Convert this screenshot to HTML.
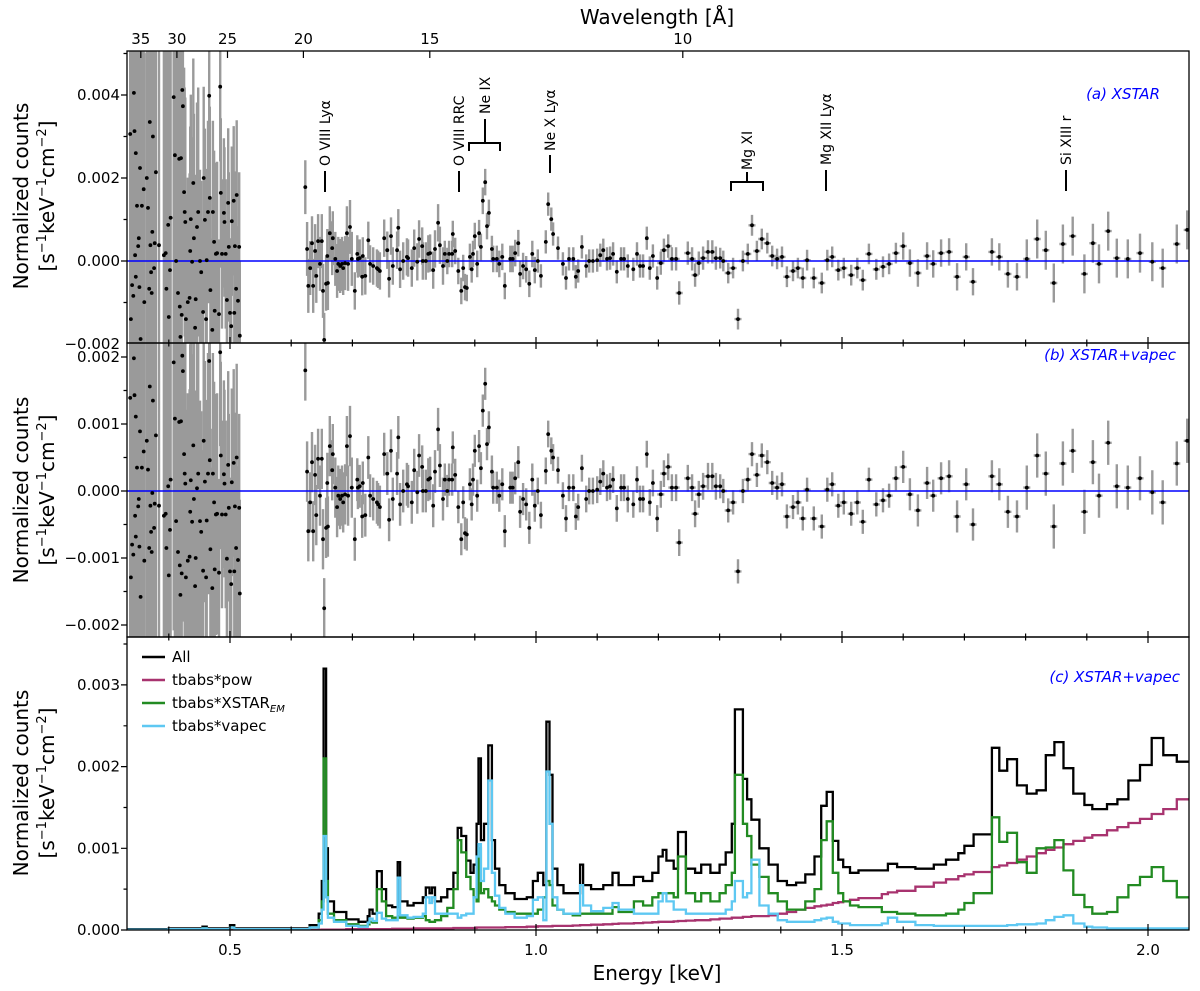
<!DOCTYPE html>
<html><head><meta charset="utf-8"><title>Spectrum residuals and model</title>
<style>
html,body{margin:0;padding:0;background:#fff;}
svg{display:block;font-family:"DejaVu Sans","Liberation Sans",sans-serif;}
</style></head>
<body>
<svg id="chart" width="1200" height="991" viewBox="0 0 1200 991" xmlns="http://www.w3.org/2000/svg">
<defs>
<clipPath id="clipA"><rect x="127" y="51" width="1062" height="292"/></clipPath>
<clipPath id="clipB"><rect x="127" y="343" width="1062" height="294"/></clipPath>
<clipPath id="clipC"><rect x="127" y="637" width="1062" height="293"/></clipPath>
</defs>
<g id="layerA" clip-path="url(#clipA)"></g>
<g id="layerB" clip-path="url(#clipB)"></g>
<g id="layerC" clip-path="url(#clipC)"></g>
<g id="axes"></g>
<g font-size="14" fill="#000" stroke="#000" stroke-width="2">
  <text stroke="none" transform="translate(330,166) rotate(-90)">O VIII Lyα</text>
  <line x1="325" y1="171" x2="325" y2="192"/>
  <text stroke="none" transform="translate(464,166) rotate(-90)">O VIII RRC</text>
  <line x1="459" y1="171" x2="459" y2="192"/>
  <text stroke="none" transform="translate(490,114) rotate(-90)">Ne IX</text>
  <path fill="none" d="M485 119V143M469 151V143H500V151"/>
  <text stroke="none" transform="translate(555,151) rotate(-90)">Ne X Lyα</text>
  <line x1="550" y1="155" x2="550" y2="173"/>
  <text stroke="none" transform="translate(752,170) rotate(-90)">Mg XI</text>
  <path fill="none" d="M747 172V182M731 191V182H763V191"/>
  <text stroke="none" transform="translate(831,165) rotate(-90)">Mg XII Lyα</text>
  <line x1="826" y1="170" x2="826" y2="191"/>
  <text stroke="none" transform="translate(1071,165) rotate(-90)">Si XIII r</text>
  <line x1="1066" y1="170" x2="1066" y2="191"/>
</g>
<g font-style="italic" font-size="15" fill="#0000ff" text-anchor="end">
  <text x="1160" y="99">(a) XSTAR</text>
  <text x="1176" y="360">(b) XSTAR+vapec</text>
  <text x="1180" y="682">(c) XSTAR+vapec</text>
</g>
<g font-size="15">
  <line x1="142" y1="657" x2="165" y2="657" stroke="#000" stroke-width="2.5"/>
  <text x="172" y="662">All</text>
  <line x1="142" y1="680" x2="165" y2="680" stroke="#a8336f" stroke-width="2.5"/>
  <text x="172" y="685">tbabs*pow</text>
  <line x1="142" y1="703" x2="165" y2="703" stroke="#228b22" stroke-width="2.5"/>
  <text x="172" y="708">tbabs*XSTAR<tspan font-size="10" font-style="italic" dy="4">EM</tspan></text>
  <line x1="142" y1="726" x2="165" y2="726" stroke="#5ec8f2" stroke-width="2.5"/>
  <text x="172" y="731">tbabs*vapec</text>
</g>
<text x="657" y="24" font-size="20" text-anchor="middle">Wavelength [Å]</text>
<text x="657" y="980" font-size="20" text-anchor="middle">Energy [keV]</text>
<g font-size="20" text-anchor="middle">
  <text transform="translate(28,196) rotate(-90)">Normalized counts</text>
  <text transform="translate(54,196) rotate(-90)">[s<tspan font-size="13" dy="-8">−1</tspan><tspan dy="8">keV</tspan><tspan font-size="13" dy="-8">−1</tspan><tspan dy="8">cm</tspan><tspan font-size="13" dy="-8">−2</tspan><tspan dy="8">]</tspan></text>
</g>
<g font-size="20" text-anchor="middle">
  <text transform="translate(28,490) rotate(-90)">Normalized counts</text>
  <text transform="translate(54,490) rotate(-90)">[s<tspan font-size="13" dy="-8">−1</tspan><tspan dy="8">keV</tspan><tspan font-size="13" dy="-8">−1</tspan><tspan dy="8">cm</tspan><tspan font-size="13" dy="-8">−2</tspan><tspan dy="8">]</tspan></text>
</g>
<g font-size="20" text-anchor="middle">
  <text transform="translate(28,783) rotate(-90)">Normalized counts</text>
  <text transform="translate(54,783) rotate(-90)">[s<tspan font-size="13" dy="-8">−1</tspan><tspan dy="8">keV</tspan><tspan font-size="13" dy="-8">−1</tspan><tspan dy="8">cm</tspan><tspan font-size="13" dy="-8">−2</tspan><tspan dy="8">]</tspan></text>
</g>
</svg>
<script>
// ---------- residual data (values in 1e-3 units) ----------
const energies = [
.343,.337,.344,.346,.353,.364,.369,.374,.379,.359,.348,.356,.366,.373,.351,.350,.345,.340,.342,.338,.354,.346,.352,.360,.368,.371,.372,.376,.370,.377,.384,.392,.395,.396,.400,.402,.399,.403,.408,.410,.412,.415,.417,.418,.419,.420,.422,.423,.425,.421,.426,.427,.428,.431,.435,.434,.436,.438,.440,.441,.443,.444,.446,.448,.451,.453,.456,.457,.459,.461,.462,.464,.466,.467,.468,.471,.472,.474,.475,.477,.479,.482,.484,.485,.487,.490,.491,.493,.495,.497,.498,.500,.502,.503,.507,.506,.508,.510,.511,.513,.515,.516,
.623,.626,.628,.631,.634,.636,.639,.641,.644,.647,.650,.652,.654,.657,.659,.660,.663,.667,.668,.672,.675,.677,.680,.683,.685,.688,.691,.693,.696,.699,.704,.708,.709,.712,.716,.717,.721,.726,.729,.734,.740,.742,.745,.752,.757,.760,.763,.766,.773,.775,.778,.783,.789,.791,.797,.801,.806,.809,.814,.815,.820,.824,.827,.832,.835,.840,.843,.848,.851,.855,.858,.863,.864,.868,.873,.878,.881,.884,.887,.892,.895,.897,.900,.904,.907,.910,.913,.917,.920,.923,.928,.930,.936,.940,.945,.949,.958,.962,.966,.971,.974,.979,.984,.989,.994,.998,1.003,1.008,1.016,1.020,1.025,1.028,1.036,1.044,1.049,1.054,1.061,1.065,1.069,1.075,1.082,1.087,1.093,1.100,1.105,1.110,1.116,1.121,1.126,1.132,1.139,1.144,1.150,1.159,1.165,1.170,1.175,1.181,1.186,1.191,1.198,1.204,1.209,1.216,1.222,1.229,1.234,1.248,1.255,1.260,1.266,1.273,1.281,1.288,1.294,1.301,1.306,1.314,1.322,1.330,1.338,1.346,1.353,1.361,1.369,1.378,1.386,1.394,1.402,1.410,1.420,1.428,1.436,1.443,1.454,1.467,1.476,1.484,1.494,1.503,1.515,1.525,1.534,1.544,1.556,1.567,1.577,1.588,1.600,1.611,1.624,1.639,1.649,1.662,1.675,1.688,1.703,1.714,1.745,1.757,1.771,1.786,1.802,1.819,1.833,1.846,1.861,1.877,1.896,1.910,1.920,1.935,1.949,1.967,1.987,2.007,2.024,2.047,2.064];
const residA = [
4.05,3.06,3.13,2.6,2.24,2.0,3.35,3.0,2.14,1.73,1.33,1.33,1.28,.7,.55,.36,.14,-.58,-.84,-1.4,-1.88,-.38,-.63,-.99,-.67,-.27,-.77,-.17,.38,.43,.38,.14,.19,-.67,-1.35,-.22,.87,1.04,3.95,2.55,0,-.77,2.46,-1.1,-1.83,2.48,4.12,3.73,1.66,-1.3,1.18,.94,-1.4,-.99,.24,-.89,1.01,-.02,1.88,.55,-1.61,-.92,.82,1.18,0,-.27,-1.23,2.0,.99,-1.4,.02,1.18,3.98,1.52,-.7,-1.66,1.18,.46,-1.2,.17,.19,-1.28,4.2,1.64,.17,1.16,.94,.17,-.94,1.4,.34,-1.25,-1.57,.96,-1.25,1.45,.36,-.67,1.59,-.96,.34,-1.8,
1.78,.29,-.6,-.17,.43,-.6,.24,-.36,.48,-.07,.48,-.72,-1.9,-.55,.12,-.53,.67,.31,.55,.05,-.24,-.07,-.12,-.07,-.17,-.05,.67,-.07,.82,.05,-.72,.17,.05,.07,-.38,.12,-.36,.5,-.07,-.12,-.17,-.2,-.24,.55,.26,-.43,.6,-.12,.26,.8,-.2,0,.1,.07,-.17,.31,-.02,.53,.36,0,0,.17,.19,-.22,.29,.92,.38,-.12,.17,0,.17,.17,.65,.24,-.24,-.72,-.17,-.63,-.65,.1,-.2,.17,.6,-.07,.67,.34,1.45,1.9,.84,1.16,.29,.05,.05,-.07,.1,-.6,.05,.05,.19,.43,-.31,-.12,-.2,-.55,.17,-.22,0,-.36,.46,1.37,1.01,.65,.31,-.07,-.41,.05,.05,-.38,-.24,.34,-.12,0,0,.02,.14,.26,.05,.07,.17,-.26,.05,.05,-.12,-.2,.17,-.12,-.12,.55,-.17,.12,-.41,-.05,.26,.36,.05,.05,-.77,.19,.05,-.34,-.05,.07,.22,.22,.07,.07,0,-.29,-.17,-1.4,0,.17,.86,.24,.53,.43,.12,.05,.1,-.38,-.24,-.17,-.41,.02,-.41,-.53,.02,.1,-.22,-.17,-.34,-.17,-.46,.17,-.2,-.14,-.07,.19,.36,-.05,-.29,.12,-.07,.19,.22,-.38,.1,-.5,.22,.1,-.31,-.38,.05,.53,.26,-.53,.41,.6,-.31,.43,-.07,.72,.07,.05,.19,-.02,-.17,.41,.75];
const residB = [
1.98,1.39,1.43,1.11,.89,.75,1.56,1.35,.83,.59,.35,.35,.32,-.03,-.12,-.23,-.37,-.8,-.95,-1.29,-1.58,-.68,-.83,-1.04,-.85,-.61,-.91,-.55,-.22,-.19,-.22,-.37,-.34,-.85,-1.26,-.58,.07,.17,1.92,1.08,-.45,-.91,1.03,-1.11,-1.55,1.04,2.02,1.79,.55,-1.23,.26,.11,-1.29,-1.04,-.31,-.98,.16,-.46,.68,-.12,-1.42,-1.0,.04,.26,-.45,-.61,-1.19,.75,.14,-1.29,-.44,.26,1.94,.46,-.87,-1.45,.26,-.17,-1.17,-.35,-.34,-1.22,2.07,.53,-.35,.25,.11,-.35,-1.01,.39,-.25,-1.2,-1.39,.13,-1.2,.42,-.23,-.85,.5,-1.03,-.25,-1.53,
1.8,.29,-.6,-.17,.43,-.6,.24,-.36,.48,-.07,.48,-.72,-1.75,-.55,.12,-.53,.67,.31,.55,.05,-.24,-.07,-.12,-.07,-.17,-.05,.67,-.07,.82,.05,-.72,.17,.05,.07,-.38,.12,-.36,.5,-.07,-.12,-.17,-.2,-.24,.55,.26,-.43,.6,-.12,.26,.8,-.2,0,.1,.07,-.17,.31,-.02,.53,.36,0,0,.17,.19,-.22,.29,.92,.38,-.12,.17,0,.17,.17,.65,.24,-.24,-.72,-.17,-.63,-.65,.1,-.2,.17,.6,-.07,.67,.34,1.2,1.6,.7,.95,.29,.05,.05,-.07,.1,-.6,.05,.05,.19,.43,-.31,-.12,-.2,-.55,.17,-.22,0,-.36,.3,.85,.6,.5,.31,-.07,-.41,.05,.05,-.38,-.24,.34,-.12,0,0,.02,.14,.26,.05,.07,.17,-.26,.05,.05,-.12,-.2,.17,-.12,-.12,.55,-.17,.12,-.41,-.05,.26,.36,.05,.05,-.77,.19,.05,-.34,-.05,.07,.22,.22,.07,.07,0,-.29,-.17,-1.2,0,.17,.55,.24,.53,.43,.12,.05,.1,-.38,-.24,-.17,-.41,.02,-.41,-.53,.02,.1,-.22,-.17,-.34,-.17,-.46,.17,-.2,-.14,-.07,.19,.36,-.05,-.29,.12,-.07,.19,.22,-.38,.1,-.5,.22,.1,-.31,-.38,.05,.53,.26,-.53,.41,.6,-.31,.43,-.07,.72,.07,.05,.19,-.02,-.17,.41,.75];
// error half-widths by energy band (upper edges)
const errEdges = [0.42,0.45,0.48,0.53,0.70,0.85,1.0,1.3,1.6,1.8,2.2];
const errA = [6,3,2.2,1.8,0.65,0.45,0.32,0.28,0.25,0.33,0.47];
const errB = [4,2.5,1.8,1.4,0.45,0.32,0.24,0.2,0.18,0.24,0.33];

// ---------- model data (panel c, 1e-3 units, step-post) ----------
const modelE = [0.332,0.40,0.455,0.462,0.50,0.507,0.60,0.630,0.645,0.650,0.653,0.657,0.660,0.67,0.69,0.71,0.725,0.728,0.733,0.740,0.748,0.755,0.765,0.774,0.778,0.79,0.80,0.815,0.820,0.826,0.830,0.835,0.845,0.855,0.865,0.872,0.878,0.886,0.893,0.898,0.903,0.906,0.910,0.915,0.922,0.928,0.933,0.94,0.95,0.965,0.985,0.995,1.003,1.012,1.017,1.022,1.027,1.035,1.045,1.06,1.072,1.077,1.09,1.11,1.125,1.135,1.16,1.175,1.19,1.20,1.207,1.213,1.225,1.232,1.245,1.26,1.27,1.285,1.30,1.31,1.32,1.325,1.338,1.345,1.352,1.365,1.38,1.395,1.41,1.425,1.44,1.455,1.466,1.475,1.485,1.494,1.502,1.513,1.527,1.565,1.575,1.59,1.62,1.65,1.67,1.69,1.70,1.715,1.745,1.757,1.770,1.786,1.802,1.818,1.833,1.847,1.862,1.878,1.896,1.909,1.933,1.95,1.968,1.987,2.006,2.025,2.047];
const modelAll = [0.01,0.02,0.04,0.02,0.06,0.02,0.02,0.06,0.2,0.6,3.2,1.0,0.35,0.22,0.13,0.1,0.17,0.25,0.2,0.72,0.5,0.3,0.28,0.83,0.35,0.3,0.33,0.4,0.52,0.45,0.52,0.35,0.4,0.5,0.7,1.25,1.15,0.85,0.7,0.8,1.3,2.1,1.1,1.3,2.26,1.1,0.75,0.55,0.45,0.38,0.4,0.6,0.7,0.55,2.55,1.9,0.75,0.55,0.45,0.45,0.8,0.55,0.5,0.55,0.7,0.55,0.65,0.6,0.7,0.9,0.98,0.85,0.75,1.2,0.75,0.7,0.8,0.7,0.8,0.95,1.3,2.7,1.85,1.6,1.35,1.0,0.8,0.6,0.55,0.58,0.68,0.9,1.52,1.69,1.09,0.86,0.77,0.7,0.73,0.73,0.81,0.77,0.75,0.8,0.86,0.94,1.03,1.17,2.23,1.95,2.09,1.77,1.67,1.71,2.14,2.3,1.98,1.67,1.53,1.48,1.54,1.6,1.83,2.02,2.35,2.14,2.06];
const modelPow = [0,0,0,0,0,0,0,0,0.002,0.004,0.005,0.005,0.005,0.005,0.01,0.01,0.01,0.01,0.01,0.01,0.01,0.01,0.015,0.015,0.015,0.015,0.02,0.02,0.02,0.02,0.02,0.02,0.02,0.02,0.025,0.025,0.025,0.025,0.025,0.025,0.03,0.03,0.03,0.03,0.03,0.03,0.03,0.03,0.035,0.035,0.04,0.04,0.045,0.045,0.045,0.045,0.05,0.05,0.05,0.055,0.06,0.06,0.065,0.07,0.075,0.08,0.085,0.09,0.095,0.1,0.1,0.1,0.105,0.11,0.115,0.12,0.12,0.13,0.14,0.14,0.15,0.15,0.16,0.16,0.17,0.17,0.18,0.2,0.22,0.25,0.27,0.29,0.3,0.31,0.33,0.34,0.35,0.37,0.39,0.44,0.46,0.48,0.53,0.58,0.62,0.66,0.68,0.71,0.77,0.79,0.82,0.86,0.9,0.94,0.98,1.01,1.05,1.09,1.13,1.16,1.22,1.26,1.31,1.36,1.42,1.48,1.6];
const modelXstar = [0.005,0.01,0.02,0.01,0.03,0.01,0.01,0.03,0.12,0.35,2.1,0.6,0.2,0.12,0.07,0.05,0.07,0.1,0.09,0.5,0.35,0.17,0.15,0.17,0.15,0.14,0.15,0.17,0.12,0.1,0.1,0.12,0.17,0.27,0.5,1.1,0.95,0.65,0.5,0.4,0.35,1.0,0.45,0.5,0.4,0.35,0.3,0.25,0.22,0.2,0.2,0.2,0.25,0.4,0.6,0.55,0.3,0.25,0.2,0.18,0.2,0.2,0.2,0.2,0.28,0.22,0.35,0.3,0.4,0.45,0.45,0.45,0.4,0.9,0.45,0.35,0.45,0.35,0.45,0.55,0.7,1.9,1.3,1.15,0.8,0.65,0.45,0.35,0.25,0.25,0.35,0.5,1.1,1.33,0.7,0.45,0.35,0.3,0.28,0.22,0.22,0.2,0.18,0.18,0.2,0.25,0.33,0.45,1.38,1.08,1.19,0.83,0.7,1.0,1.01,1.1,0.73,0.43,0.28,0.2,0.22,0.4,0.55,0.65,0.77,0.6,0.4];
const modelVapec = [0.005,0.01,0.02,0.01,0.03,0.01,0.01,0.03,0.08,0.25,1.15,0.4,0.15,0.1,0.05,0.04,0.09,0.14,0.11,0.21,0.14,0.12,0.12,0.64,0.18,0.15,0.16,0.2,0.4,0.33,0.4,0.2,0.2,0.2,0.2,0.15,0.18,0.2,0.2,0.4,0.9,1.05,0.6,0.75,1.83,0.7,0.42,0.27,0.2,0.15,0.17,0.37,0.4,0.12,1.94,1.3,0.4,0.25,0.2,0.2,0.55,0.3,0.23,0.27,0.33,0.25,0.2,0.2,0.2,0.35,0.45,0.35,0.25,0.25,0.2,0.2,0.2,0.2,0.2,0.25,0.35,0.6,0.4,0.45,0.86,0.3,0.2,0.12,0.1,0.1,0.1,0.12,0.14,0.15,0.1,0.08,0.08,0.06,0.06,0.08,0.15,0.1,0.06,0.05,0.05,0.05,0.05,0.05,0.05,0.05,0.06,0.07,0.07,0.08,0.12,0.16,0.18,0.08,0.04,0.03,0.02,0.02,0.02,0.02,0.02,0.02,0.02];

// ---------- axis ticks ----------
const xMajorTicks = [0.5,1.0,1.5,2.0];
const xMajorLabels = ["0.5","1.0","1.5","2.0"];
const wlTicks = [35,30,25,20,15,10];
const wlLabels = ["35","30","25","20","15","10"];
const aTicks = [4,2,0,-2];
const aLabels = ["0.004","0.002","0.000","−0.002"];
const bTicks = [2,1,0,-1,-2];
const bLabels = ["0.002","0.001","0.000","−0.001","−0.002"];
const cTicks = [3,2,1,0];
const cLabels = ["0.003","0.002","0.001","0.000"];

// ---------- scales ----------
const X0 = 127, X1 = 1189;
const xS = e => X0 + (e - 0.3317) * 612;
const yA = v => 261 - v * 41.5;
const yB = v => 491 - v * 67;
const yC = v => 930 - v * 81.7;
const NS = "http://www.w3.org/2000/svg";
function mk(tag, parent, attrs) {
  const el = document.createElementNS(NS, tag);
  for (const k in attrs) el.setAttribute(k, attrs[k]);
  parent.appendChild(el);
  return el;
}
function errFor(e, arr) {
  for (let i = 0; i < errEdges.length; i++) if (e < errEdges[i]) return arr[i];
  return arr[arr.length - 1];
}

function drawResid(layer, vals, errs, ys, tag) {
  let bars = "";
  for (let i = 0; i < energies.length; i++) {
    const x = xS(energies[i]), er = errFor(energies[i], errs);
    bars += `M${x.toFixed(1)} ${ys(vals[i] + er).toFixed(1)}V${ys(vals[i] - er).toFixed(1)}`;
    if (energies[i] > 1.2) bars += `M${(x - 3.5).toFixed(1)} ${ys(vals[i]).toFixed(1)}h7`;
  }
  const p = mk("path", layer, {d: bars, stroke: "#9a9a9a", "stroke-width": 2.4, fill: "none"});
  
  
  const z = mk("line", layer, {x1: X0, x2: X1, y1: ys(0), y2: ys(0), stroke: "#0000ff", "stroke-width": 1.6});
  
  
  for (let i = 0; i < energies.length; i++) {
    const c = mk("circle", layer, {cx: xS(energies[i]).toFixed(1), cy: ys(vals[i]).toFixed(1), r: 1.9, fill: "#000"});
    
    
  }
}
drawResid(document.getElementById("layerA"), residA, errA, yA, "panel-a");
drawResid(document.getElementById("layerB"), residB, errB, yB, "panel-b");

function stepPath(vals) {
  let d = `M${xS(modelE[0]).toFixed(1)} ${yC(vals[0]).toFixed(1)}`;
  for (let i = 1; i < modelE.length; i++) {
    d += `H${xS(modelE[i]).toFixed(1)}V${yC(vals[i]).toFixed(1)}`;
  }
  d += `H${X1 + 2}`;
  return d;
}
const layerC = document.getElementById("layerC");
const series = [[modelAll, "#000", "model-all"], [modelPow, "#a8336f", "model-pow"], [modelXstar, "#228b22", "model-xstar"], [modelVapec, "#5ec8f2", "model-vapec"]];
for (const [vals, col, nm] of series) {
  const p = mk("path", layerC, {d: stepPath(vals), stroke: col, "stroke-width": 2.3, fill: "none", "stroke-linejoin": "miter"});
  
  
}

// ---------- axes ----------
const ax = document.getElementById("axes");
const frames = [[51, 343, "panel-a-frame"], [343, 637, "panel-b-frame"], [637, 930, "panel-c-frame"]];
for (const [t, b, nm] of frames) {
  const r = mk("rect", ax, {x: X0, y: t, width: X1 - X0, height: b - t, fill: "none", stroke: "#000", "stroke-width": 1.3});
  
  
}
let tk = "";
for (let e = 0.4; e <= 2.05; e += 0.1) {
  const x = xS(Math.round(e * 10) / 10);
  const major = xMajorTicks.some(m => Math.abs(m - e) < 1e-6);
  const h = major ? 6 : 3.5;
  for (const yb of [343, 637, 930]) tk += `M${x.toFixed(1)} ${yb - h}V${yb + h}`;
}
for (const w of wlTicks) { const x = xS(12.398 / w); tk += `M${x.toFixed(1)} 51v7`; }
for (let v = -2; v <= 5; v += 1) { const y = yA(v); if (y >= 51 && y <= 343) tk += `M${X0 - ((v % 2 === 0) ? 6 : 3.5)} ${y.toFixed(1)}H${X0}`; }
for (let v = -2; v <= 2.01; v += 0.5) { const y = yB(v); if (y >= 343 && y <= 637) tk += `M${X0 - (Number.isInteger(v) ? 6 : 3.5)} ${y.toFixed(1)}H${X0}`; }
for (let v = 0; v <= 3.51; v += 0.5) { const y = yC(v); tk += `M${X0 - (Number.isInteger(v) ? 6 : 3.5)} ${y.toFixed(1)}H${X0}`; }
const tp = mk("path", ax, {d: tk, stroke: "#000", "stroke-width": 1.2, fill: "none"});



function label(x, y, txt, anchor, nm) {
  const t = mk("text", ax, {x: x, y: y, "font-size": 15, "text-anchor": anchor, fill: "#000"});
  t.textContent = txt;
  
  
}
xMajorTicks.forEach((e, i) => label(xS(e), 955, xMajorLabels[i], "middle", "x-tick-label"));
wlTicks.forEach((w, i) => label(xS(12.398 / w), 44, wlLabels[i], "middle", "wavelength-tick-label"));
aTicks.forEach((v, i) => label(120, yA(v) + 5, aLabels[i], "end", "y-tick-label-a"));
bTicks.forEach((v, i) => label(120, yB(v) + 5, bLabels[i], "end", "y-tick-label-b"));
cTicks.forEach((v, i) => label(120, yC(v) + 5, cLabels[i], "end", "y-tick-label-c"));
</script>
</body></html>
